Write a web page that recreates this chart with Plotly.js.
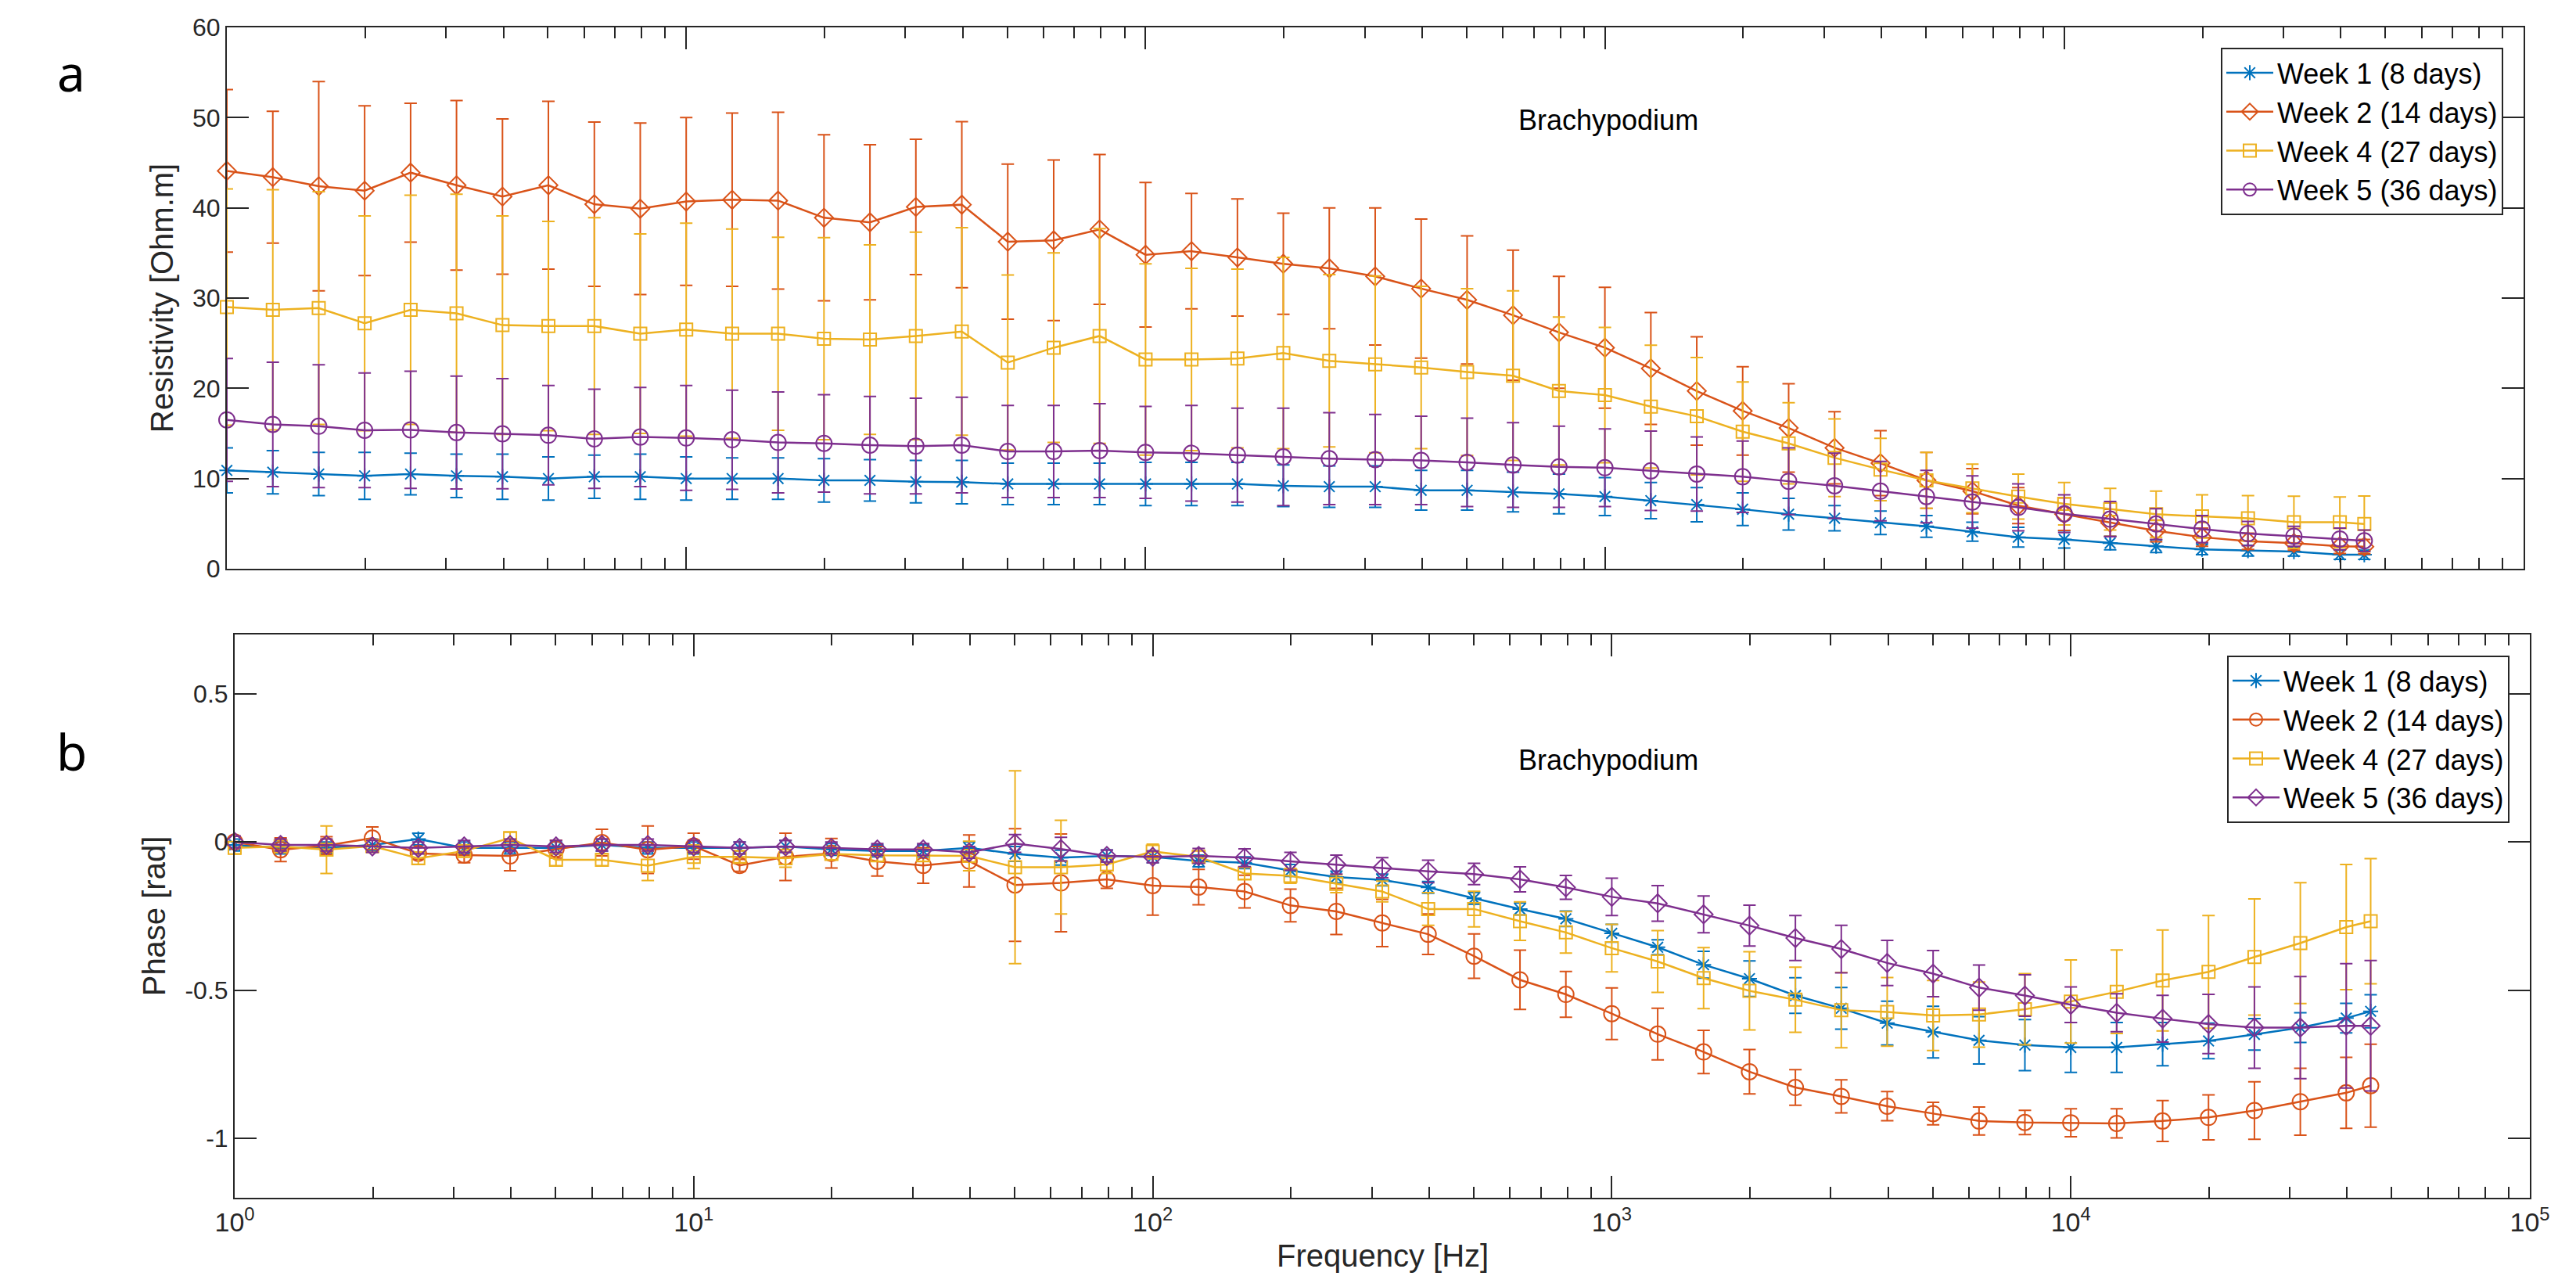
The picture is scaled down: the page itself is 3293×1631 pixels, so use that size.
<!DOCTYPE html>
<html>
<head>
<meta charset="utf-8">
<script src="https://cdn.plot.ly/plotly-3.0.1.min.js"></script>
<style>html,body{margin:0;padding:0;background:#fff;}#chart{width:3293px;height:1631px;}</style>
</head>
<body>
<div id="chart"></div>
<script>
// ---------- DATA ----------
const freq = [1, 1.259, 1.585, 1.995, 2.512, 3.162, 3.981, 5.012, 6.310, 7.943,
  10, 12.59, 15.85, 19.95, 25.12, 31.62, 39.81, 50.12, 63.10, 79.43,
  100, 125.9, 158.5, 199.5, 251.2, 316.2, 398.1, 501.2, 631.0, 794.3,
  1000, 1259, 1585, 1995, 2512, 3162, 3981, 5012, 6310, 7943,
  10000, 12589, 15849, 19953, 25119, 31623, 39811, 45000];

const seriesNames = ['Week 1 (8 days)', 'Week 2 (14 days)', 'Week 4 (27 days)', 'Week 5 (36 days)'];

// Resistivity [Ohm.m]
const resWeek1 = [10.9, 10.7, 10.5, 10.3, 10.5, 10.3, 10.2, 10.0, 10.2, 10.2,
  10.0, 10.0, 10.0, 9.8, 9.8, 9.65, 9.6, 9.4, 9.4, 9.4,
  9.4, 9.4, 9.4, 9.2, 9.1, 9.1, 8.7, 8.7, 8.5, 8.3,
  8.0, 7.55, 7.1, 6.6, 6.05, 5.6, 5.1, 4.7, 4.1, 3.5,
  3.25, 2.85, 2.5, 2.15, 2.0, 1.9, 1.55, 1.55];
const resWeek1Err = [2.5, 2.4, 2.4, 2.6, 2.3, 2.4, 2.5, 2.4, 2.4, 2.5,
  2.4, 2.3, 2.3, 2.4, 2.3, 2.35, 2.4, 2.3, 2.3, 2.3,
  2.4, 2.4, 2.4, 2.3, 2.3, 2.3, 2.2, 2.2, 2.2, 2.2,
  2.1, 2.0, 1.9, 1.8, 1.75, 1.4, 1.3, 1.2, 1.05, 1.1,
  0.95, 0.75, 0.7, 0.6, 0.6, 0.5, 0.5, 0.5];

const resWeek2 = [44.1, 43.4, 42.4, 41.9, 43.9, 42.5, 41.25, 42.5, 40.4, 39.9,
  40.7, 40.9, 40.8, 38.9, 38.4, 40.1, 40.35, 36.25, 36.4, 37.6,
  34.8, 35.2, 34.5, 33.8, 33.3, 32.4, 31.05, 29.8, 28.1, 26.2,
  24.5, 22.2, 19.7, 17.5, 15.6, 13.4, 11.7, 9.8, 8.6, 7.0,
  6.05, 5.1, 4.2, 3.5, 3.05, 2.85, 2.5, 2.45];
const resWeek2Err = [9.0, 7.3, 11.6, 9.4, 7.7, 9.4, 8.6, 9.3, 9.1, 9.5,
  9.3, 9.6, 9.8, 9.2, 8.6, 7.5, 9.2, 8.6, 8.9, 8.3,
  8.0, 6.4, 6.5, 5.6, 6.7, 7.6, 7.7, 7.1, 7.2, 6.2,
  6.7, 6.2, 6.0, 4.9, 4.9, 4.0, 3.6, 3.1, 2.5, 2.0,
  1.8, 1.5, 1.2, 1.0, 0.9, 0.8, 0.8, 0.8];

const resWeek4 = [29.0, 28.7, 28.9, 27.2, 28.7, 28.3, 27.0, 26.9, 26.9, 26.05,
  26.5, 26.05, 26.05, 25.5, 25.4, 25.8, 26.3, 22.85, 24.5, 25.8,
  23.2, 23.2, 23.3, 23.9, 23.05, 22.65, 22.3, 21.8, 21.4, 19.7,
  19.25, 17.97, 16.9, 15.2, 13.9, 12.3, 11.0, 9.8, 8.9, 8.0,
  7.2, 6.6, 6.05, 5.8, 5.6, 5.15, 5.15, 4.96];
const resWeek4Err = [13.1, 13.3, 12.9, 11.9, 12.7, 13.2, 12.1, 11.6, 12.0, 11.05,
  11.8, 11.6, 10.7, 11.2, 10.5, 11.5, 11.5, 9.7, 10.5, 11.9,
  10.6, 10.1, 9.9, 10.6, 9.55, 9.8, 9.0, 9.25, 9.4, 8.2,
  7.5, 6.8, 6.5, 5.5, 4.5, 4.3, 3.45, 3.1, 2.7, 2.5,
  2.35, 2.3, 2.55, 2.4, 2.5, 2.9, 2.8, 3.1];

const resWeek5 = [16.5, 16.0, 15.8, 15.35, 15.4, 15.1, 14.96, 14.8, 14.4, 14.6,
  14.5, 14.3, 14.0, 13.9, 13.7, 13.6, 13.7, 13.0, 13.0, 13.1,
  12.9, 12.8, 12.6, 12.4, 12.2, 12.1, 12.0, 11.8, 11.5, 11.3,
  11.2, 10.85, 10.5, 10.2, 9.7, 9.2, 8.6, 8.0, 7.4, 6.8,
  6.1, 5.5, 4.96, 4.4, 3.9, 3.6, 3.3, 3.1];
const resWeek5Err = [6.8, 6.9, 6.8, 6.35, 6.5, 6.25, 6.1, 5.5, 5.5, 5.5,
  5.8, 5.5, 5.6, 5.4, 5.4, 5.3, 5.3, 5.1, 5.1, 5.2,
  5.1, 5.3, 5.2, 5.4, 5.1, 5.0, 4.9, 4.9, 4.7, 4.5,
  4.3, 4.4, 4.1, 3.95, 3.7, 3.6, 3.3, 2.9, 2.9, 2.6,
  2.1, 1.95, 1.7, 1.5, 1.35, 1.1, 1.2, 1.2];

// Phase [rad]
const phWeek1 = [-0.01, -0.02, -0.02, -0.01, 0.01, -0.02, -0.02, -0.02, -0.01, -0.02,
  -0.02, -0.02, -0.015, -0.025, -0.03, -0.03, -0.02, -0.04, -0.053, -0.047,
  -0.05, -0.064, -0.07, -0.096, -0.118, -0.128, -0.153, -0.19, -0.226, -0.259,
  -0.308, -0.355, -0.414, -0.461, -0.518, -0.561, -0.611, -0.641, -0.669, -0.685,
  -0.693, -0.693, -0.682, -0.671, -0.649, -0.626, -0.594, -0.571];
const phWeek1Err = [0.02, 0.02, 0.02, 0.02, 0.02, 0.02, 0.02, 0.02, 0.02, 0.02,
  0.02, 0.02, 0.02, 0.02, 0.02, 0.02, 0.02, 0.025, 0.025, 0.02,
  0.02, 0.02, 0.02, 0.02, 0.02, 0.02, 0.02, 0.02, 0.02, 0.026,
  0.03, 0.025, 0.045, 0.06, 0.06, 0.07, 0.074, 0.087, 0.08, 0.086,
  0.084, 0.084, 0.073, 0.06, 0.053, 0.05, 0.05, 0.056];

const phWeek2 = [0.0, -0.026, -0.012, 0.013, -0.038, -0.044, -0.047, -0.024, -0.002, -0.026,
  -0.014, -0.079, -0.05, -0.038, -0.065, -0.079, -0.064, -0.145, -0.138, -0.126,
  -0.147, -0.152, -0.167, -0.214, -0.234, -0.273, -0.311, -0.385, -0.465, -0.514,
  -0.579, -0.648, -0.708, -0.775, -0.828, -0.858, -0.891, -0.916, -0.941, -0.946,
  -0.947, -0.949, -0.941, -0.929, -0.906, -0.876, -0.846, -0.822];
const phWeek2Err = [0.02, 0.04, 0.03, 0.038, 0.02, 0.026, 0.05, 0.03, 0.045, 0.08,
  0.044, 0.02, 0.08, 0.05, 0.05, 0.06, 0.088, 0.19, 0.165, 0.03,
  0.1, 0.06, 0.055, 0.055, 0.078, 0.08, 0.068, 0.075, 0.1, 0.077,
  0.087, 0.087, 0.073, 0.075, 0.06, 0.056, 0.049, 0.038, 0.047, 0.041,
  0.047, 0.049, 0.069, 0.076, 0.097, 0.113, 0.12, 0.14];

const phWeek4 = [-0.02, -0.015, -0.026, -0.014, -0.055, -0.03, 0.013, -0.06, -0.06, -0.08,
  -0.05, -0.05, -0.055, -0.04, -0.045, -0.045, -0.047, -0.085, -0.085, -0.076,
  -0.032, -0.05, -0.106, -0.114, -0.141, -0.167, -0.226, -0.226, -0.267, -0.305,
  -0.358, -0.403, -0.459, -0.502, -0.532, -0.567, -0.573, -0.585, -0.582, -0.564,
  -0.538, -0.505, -0.467, -0.438, -0.388, -0.341, -0.287, -0.267];
const phWeek4Err = [0.02, 0.02, 0.08, 0.02, 0.02, 0.02, 0.02, 0.02, 0.02, 0.05,
  0.04, 0.02, 0.03, 0.02, 0.02, 0.02, 0.05, 0.325, 0.158, 0.03,
  0.025, 0.02, 0.02, 0.025, 0.03, 0.035, 0.055, 0.06, 0.065, 0.07,
  0.08, 0.104, 0.103, 0.132, 0.11, 0.127, 0.116, 0.118, 0.11, 0.12,
  0.14, 0.141, 0.17, 0.19, 0.196, 0.204, 0.211, 0.211];

const phWeek5 = [0.0, -0.01, -0.01, -0.015, -0.02, -0.015, -0.01, -0.015, -0.01, -0.01,
  -0.015, -0.02, -0.015, -0.02, -0.025, -0.025, -0.035, -0.005, -0.024, -0.047,
  -0.05, -0.047, -0.053, -0.065, -0.076, -0.087, -0.099, -0.108, -0.126, -0.153,
  -0.185, -0.207, -0.244, -0.282, -0.324, -0.361, -0.408, -0.444, -0.491, -0.518,
  -0.549, -0.576, -0.596, -0.614, -0.626, -0.626, -0.62, -0.62];
const phWeek5Err = [0.02, 0.02, 0.02, 0.02, 0.02, 0.02, 0.02, 0.02, 0.02, 0.02,
  0.02, 0.02, 0.02, 0.02, 0.02, 0.02, 0.02, 0.03, 0.04, 0.02,
  0.02, 0.025, 0.03, 0.03, 0.032, 0.034, 0.038, 0.036, 0.042, 0.04,
  0.063, 0.06, 0.062, 0.069, 0.076, 0.08, 0.076, 0.078, 0.076, 0.07,
  0.06, 0.064, 0.079, 0.10, 0.137, 0.172, 0.21, 0.22];

// Tick labels
const xTickVals = [1, 10, 100, 1000, 10000, 100000];
const xTickText = ['10<sup>0</sup>', '10<sup>1</sup>', '10<sup>2</sup>', '10<sup>3</sup>', '10<sup>4</sup>', '10<sup>5</sup>'];
const resTickVals = [0, 10, 20, 30, 40, 50, 60];
const resTickText = ['0', '10', '20', '30', '40', '50', '60'];
const phTickVals = [-1, -0.5, 0, 0.5];
const phTickText = ['-1', '-0.5', '0', '0.5'];

// ---------- STYLE ----------
const colors = ['#0072BD', '#D95319', '#EDB120', '#7E2F8E'];
const axisColor = '#262626';
const FONT = 'Liberation Sans, Arial, Helvetica, sans-serif';

// minor log ticks (axis decoration)
const minorVals = [];
for (let d = 0; d < 5; d++) for (let m = 2; m <= 9; m++) minorVals.push(m * Math.pow(10, d));

function mk(x, y, err, idx, symbol, size, xa, ya, leg) {
  return {
    type: 'scatter', mode: 'lines+markers', x: x, y: y,
    name: seriesNames[idx], xaxis: xa, yaxis: ya, legend: leg,
    cliponaxis: false,
    line: {color: colors[idx], width: 2.5},
    marker: {symbol: symbol, size: size, color: colors[idx], line: {color: colors[idx], width: 2}},
    error_y: {type: 'data', array: err, visible: true, color: colors[idx], thickness: 2, width: 8}
  };
}

const traces = [
  mk(freq, resWeek1, resWeek1Err, 0, 'asterisk-open', 16, 'x', 'y', 'legend'),
  mk(freq, resWeek2, resWeek2Err, 1, 'diamond-open', 18, 'x', 'y', 'legend'),
  mk(freq, resWeek4, resWeek4Err, 2, 'square-open', 16, 'x', 'y', 'legend'),
  mk(freq, resWeek5, resWeek5Err, 3, 'circle-open', 20, 'x', 'y', 'legend'),
  mk(freq, phWeek1, phWeek1Err, 0, 'asterisk-open', 16, 'x2', 'y2', 'legend2'),
  mk(freq, phWeek2, phWeek2Err, 1, 'circle-open', 20, 'x2', 'y2', 'legend2'),
  mk(freq, phWeek4, phWeek4Err, 2, 'square-open', 16, 'x2', 'y2', 'legend2'),
  mk(freq, phWeek5, phWeek5Err, 3, 'diamond-open', 18, 'x2', 'y2', 'legend2')
];

const W = 3293, H = 1631;
function px(x) { return x / W; }
function py(y) { return 1 - y / H; }

function xAxis(domain, anchor, showLabels) {
  return {
    type: 'log', domain: domain, range: [0, 5], anchor: anchor,
    tickmode: 'array', tickvals: xTickVals, ticktext: xTickText,
    showticklabels: showLabels,
    ticks: 'inside', ticklen: 28, tickwidth: 2, tickcolor: axisColor,
    minor: {tickmode: 'array', tickvals: minorVals, ticks: 'inside', ticklen: 14, tickwidth: 2, tickcolor: axisColor, showgrid: false},
    showline: true, linecolor: axisColor, linewidth: 2, mirror: 'allticks',
    showgrid: false, zeroline: false,
    tickfont: {family: FONT, size: 34, color: axisColor}
  };
}
function yAxis(domain, anchor, range, tv, tt, title) {
  return {
    domain: domain, range: range, anchor: anchor,
    tickmode: 'array', tickvals: tv, ticktext: tt,
    ticks: 'inside', ticklen: 28, tickwidth: 2, tickcolor: axisColor,
    showline: true, linecolor: axisColor, linewidth: 2, mirror: 'allticks',
    showgrid: false, zeroline: false,
    tickfont: {family: FONT, size: 32, color: axisColor},
    title: {text: title, font: {family: FONT, size: 40, color: axisColor}, standoff: 12}
  };
}

const legendCommon = {
  bgcolor: '#ffffff', bordercolor: axisColor, borderwidth: 2,
  font: {family: FONT, size: 36, color: '#000000'},
  xanchor: 'right', yanchor: 'top', xref: 'paper', yref: 'paper',
  traceorder: 'normal', tracegroupgap: 0, itemwidth: 60
};

const layout = {
  width: W, height: H,
  margin: {l: 0, r: 0, t: 0, b: 0, pad: 0},
  paper_bgcolor: '#ffffff', plot_bgcolor: '#ffffff',
  showlegend: true,
  font: {family: FONT, color: axisColor},
  xaxis: xAxis([px(290), px(3226)], 'y', false),
  yaxis: yAxis([py(727), py(35)], 'x', [0, 60], resTickVals, resTickText, 'Resistivity [Ohm.m]'),
  xaxis2: xAxis([px(300), px(3234)], 'y2', true),
  yaxis2: yAxis([py(1531), py(811)], 'x2', [-1.2, 0.7], phTickVals, phTickText, 'Phase [rad]'),
  legend: Object.assign({}, legendCommon, {x: px(3200), y: py(61)}),
  legend2: Object.assign({}, legendCommon, {x: px(3208), y: py(838)}),
  annotations: [
    {text: 'a', xref: 'paper', yref: 'paper', x: px(91), y: py(92), xanchor: 'center', yanchor: 'middle', showarrow: false,
      font: {family: 'Noto Sans, sans-serif', size: 64, color: '#000000'}},
    {text: 'b', xref: 'paper', yref: 'paper', x: px(91), y: py(960), xanchor: 'center', yanchor: 'middle', showarrow: false,
      font: {family: 'Noto Sans, sans-serif', size: 64, color: '#000000'}},
    {text: 'Brachypodium', xref: 'paper', yref: 'paper', x: px(2056), y: py(153), xanchor: 'center', yanchor: 'middle', showarrow: false,
      font: {family: FONT, size: 36, color: '#000000'}},
    {text: 'Brachypodium', xref: 'paper', yref: 'paper', x: px(2056), y: py(971), xanchor: 'center', yanchor: 'middle', showarrow: false,
      font: {family: FONT, size: 36, color: '#000000'}},
    {text: 'Frequency [Hz]', xref: 'paper', yref: 'paper', x: px(1767), y: py(1605), xanchor: 'center', yanchor: 'middle', showarrow: false,
      font: {family: FONT, size: 40, color: axisColor}}
  ]
};

Plotly.newPlot('chart', traces, layout, {staticPlot: true, displayModeBar: false});
</script>
</body>
</html>
